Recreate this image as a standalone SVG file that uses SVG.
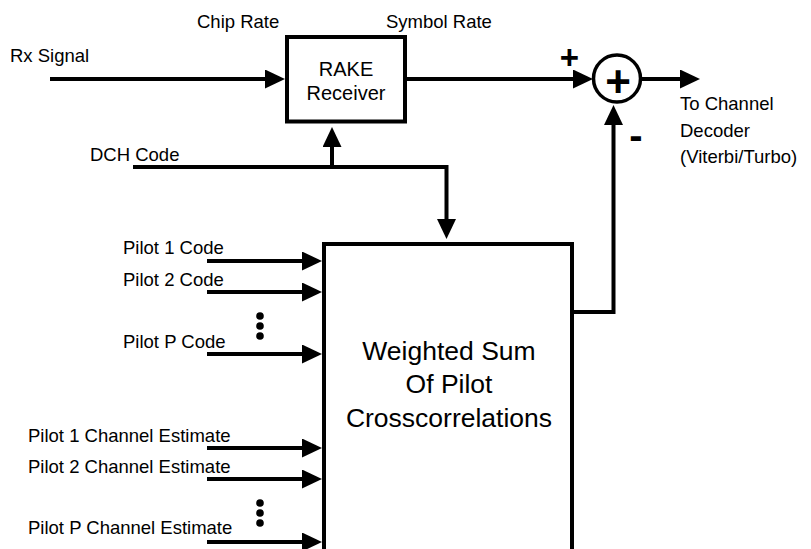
<svg xmlns="http://www.w3.org/2000/svg" width="811" height="549" viewBox="0 0 811 549">
<style>
text{font-family:"Liberation Sans",Arial,sans-serif;fill:#000}
.lbl{font-size:18.5px}
.big{font-size:26.5px}
.rk{font-size:20px}
.ln{fill:none;stroke:#000;stroke-width:4;marker-end:url(#ah)}
.box{fill:#fff;stroke:#000;stroke-width:4}
.sym{font-weight:bold}
</style>
<defs>
<marker id="ah" markerUnits="userSpaceOnUse" viewBox="0 0 20 19" refX="1" refY="9.5" markerWidth="20" markerHeight="19" orient="auto">
<path d="M0,0 L20,9.5 L0,19 Z" fill="#000"/>
</marker>
</defs>
<rect width="811" height="549" fill="#fff"/>
<g id="connectors">
<line class="ln" x1="50" y1="79" x2="266" y2="79"/>
<line class="ln" x1="405" y1="79" x2="574" y2="79"/>
<line class="ln" x1="641" y1="79" x2="681" y2="79"/>
<polyline class="ln" points="133,167 446.5,167 446.5,220"/>
<line class="ln" x1="332" y1="167" x2="332" y2="146"/>
<polyline class="ln" points="572,312 613.5,312 613.5,124"/>
<line class="ln" x1="207" y1="261" x2="303" y2="261"/>
<line class="ln" x1="207" y1="292" x2="303" y2="292"/>
<line class="ln" x1="207" y1="354" x2="303" y2="354"/>
<line class="ln" x1="207" y1="448" x2="303" y2="448"/>
<line class="ln" x1="207" y1="479" x2="303" y2="479"/>
<line class="ln" x1="207" y1="542" x2="303" y2="542"/>
</g>
<g id="rake">
<rect class="box" x="287" y="37" width="118" height="84.5"/>
<text class="rk" x="346" y="76" text-anchor="middle">RAKE</text>
<text class="rk" x="346" y="100" text-anchor="middle">Receiver</text>
</g>
<g id="sum">
<circle cx="617" cy="78.5" r="23.5" fill="#fff" stroke="#000" stroke-width="3.5"/>
<text class="sym" x="618" y="97" font-size="44" text-anchor="middle">+</text>
</g>
<g id="weighted">
<rect class="box" x="324" y="244" width="248" height="330"/>
<text class="big" x="449" y="360" text-anchor="middle">Weighted Sum</text>
<text class="big" x="449" y="393" text-anchor="middle">Of Pilot</text>
<text class="big" x="449" y="427" text-anchor="middle">Crosscorrelations</text>
</g>
<g id="labels">
<text class="lbl" x="197" y="28">Chip Rate</text>
<text class="lbl" x="386" y="28">Symbol Rate</text>
<text class="lbl" x="10" y="62">Rx Signal</text>
<text class="lbl" x="90" y="161">DCH Code</text>
<text class="sym" x="569.5" y="69" font-size="33" text-anchor="middle">+</text>
<text class="sym" x="636" y="149" font-size="40" text-anchor="middle">-</text>
<text class="lbl" x="680" y="110">To Channel</text>
<text class="lbl" x="680" y="137">Decoder</text>
<text class="lbl" x="680" y="163">(Viterbi/Turbo)</text>
<text class="lbl" x="123" y="254">Pilot 1 Code</text>
<text class="lbl" x="123" y="286">Pilot 2 Code</text>
<text class="lbl" x="123" y="348">Pilot P Code</text>
<text class="lbl" x="28" y="442">Pilot 1 Channel Estimate</text>
<text class="lbl" x="28" y="473">Pilot 2 Channel Estimate</text>
<text class="lbl" x="28" y="534">Pilot P Channel Estimate</text>
</g>
<g id="dots" fill="#000">
<circle cx="260" cy="316" r="3.8"/>
<circle cx="260" cy="326" r="3.8"/>
<circle cx="260" cy="336" r="3.8"/>
<circle cx="260" cy="503" r="3.8"/>
<circle cx="260" cy="513" r="3.8"/>
<circle cx="260" cy="523" r="3.8"/>
</g>
</svg>
